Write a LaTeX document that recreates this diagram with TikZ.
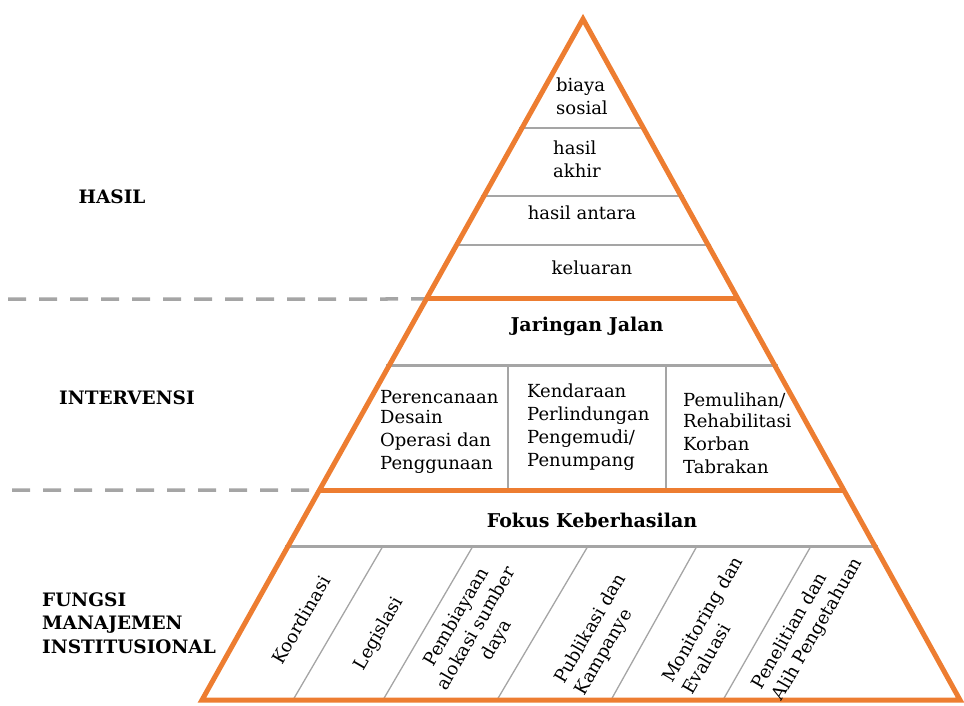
\documentclass[tikz,border=0pt]{standalone}
\usepackage{fontspec}
\setmainfont{DejaVu Serif}
\usetikzlibrary{calc}
\definecolor{org}{HTML}{ED7D31}
\definecolor{gry}{HTML}{A5A5A5}
\begin{document}
\begin{tikzpicture}[x=1pt,y=-1pt,
  txt/.style={font=\fontsize{18}{23}\selectfont, inner sep=0pt},
  rot/.style={font=\fontsize{18}{23}\selectfont, inner sep=0pt, rotate=60},
  bld/.style={font=\bfseries\fontsize{19}{23}\selectfont, inner sep=0pt},
  lbl/.style={font=\bfseries\fontsize{18.5}{23.5}\selectfont, inner sep=0pt, align=left},
  edgeline/.style={draw=org, line width=5pt, line join=miter},
  grythin/.style={draw=gry, line width=2pt},
  grythick/.style={draw=gry, line width=3pt},
  gryhair/.style={draw=gry, line width=1.3pt},
  dsh/.style={draw=gry, line width=3.5pt, dash pattern=on 18pt off 13pt},
]
\useasboundingbox (0,0) rectangle (964,705);
\coordinate (A) at (583,19);
\coordinate (BL) at (202,700);
\coordinate (BR) at (960,700);
\foreach \n/\y in {a/128,b/196,c/245,d/299,e/365,f/490,g/546} {
  \coordinate (L\n) at ($(A)!{(\y-19)/681}!(BL)$);
  \coordinate (R\n) at ($(A)!{(\y-19)/681}!(BR)$);
}
% grey separators
\draw[grythin] ($(La)+(-3,0)$) -- ($(Ra)+(3,0)$);
\draw[grythin] ($(Lb)+(-3,0)$) -- ($(Rb)+(3,0)$);
\draw[grythin] ($(Lc)+(-3,0)$) -- ($(Rc)+(3,0)$);
\draw[grythick] ($(Le)+(-3,0)$) -- ($(Re)+(3,0)$);
\draw[grythick] ($(Lg)+(-3,0)$) -- ($(Rg)+(3,0)$);
% vertical dividers
\coordinate (v1t) at (508,365); \coordinate (v1b) at (508,490);
\coordinate (v2t) at (666,365); \coordinate (v2b) at (666,490);
\draw[gryhair] (v1t) -- (v1b);
\draw[gryhair] (v2t) -- (v2b);
% diagonal dividers
\foreach \i/\xt/\xb in {1/383/293,2/473/383,3/588/497,4/697/611,5/811/723} {
  \coordinate (dt\i) at (\xt,546);
  \coordinate (db\i) at (\xb,700);
  \draw[gryhair] (dt\i) -- (db\i);
}
% dashed level lines
\coordinate (ds1) at (8,299);
\coordinate (ds2) at (12,490);
\draw[dsh] (ds1) -- (Ld);
\draw[dsh] (ds2) -- (Lf);
% orange lines
\draw[edgeline] (Ld) -- (Rd);
\draw[edgeline] (Lf) -- (Rf);
\draw[edgeline] (A) -- (BR) -- (BL) -- cycle;
% texts in pyramid
\node[txt, align=left, anchor=west] (biaya) at (556,96) {biaya\\sosial};
\node[txt, align=left, anchor=west] (akhir) at (553,159) {hasil\\akhir};
\node[txt] (antara) at (582,213) {hasil antara};
\node[txt] (keluaran) at (592,268) {keluaran};
\node[bld] (jalan) at (587,326) {Jaringan Jalan};
\node[txt, align=left, anchor=west] (c1) at (380,432) {Perencanaan\\[-3pt]Desain\\Operasi dan\\Penggunaan};
\node[txt, align=left, anchor=west] (c2) at (527,427) {Kendaraan\\Perlindungan\\Pengemudi/\\Penumpang};
\node[txt, align=left, anchor=west] (c3) at (683,433) {Pemulihan/\\[-2pt]Rehabilitasi\\Korban\\Tabrakan};
\node[bld] (fokus) at (592,520) {Fokus Keberhasilan};
% rotated texts
\node[rot] (f1) at (301,620) {Koordinasi};
\node[rot] (f2) at (379,634) {Legislasi};
\node[rot, align=center] (f3) at (477,629) {Pembiayaan\\alokasi sumber\\daya};
\node[rot, align=left] (f4) at (601,635) {Publikasi dan\\Kampanye};
\node[rot, align=left] (f5) at (712,625) {Monitoring dan\\Evaluasi};
\node[rot, align=left] (f6) at (808,624) {Penelitian dan\\Alih Pengetahuan};
% side labels
\node[lbl] (hasil) at (112,197) {HASIL};
\node[lbl, anchor=west] (interv) at (59,398) {INTERVENSI};
\node[lbl, anchor=west] (fungsi) at (42,623) {FUNGSI\\MANAJEMEN\\INSTITUSIONAL};
\end{tikzpicture}
\end{document}
